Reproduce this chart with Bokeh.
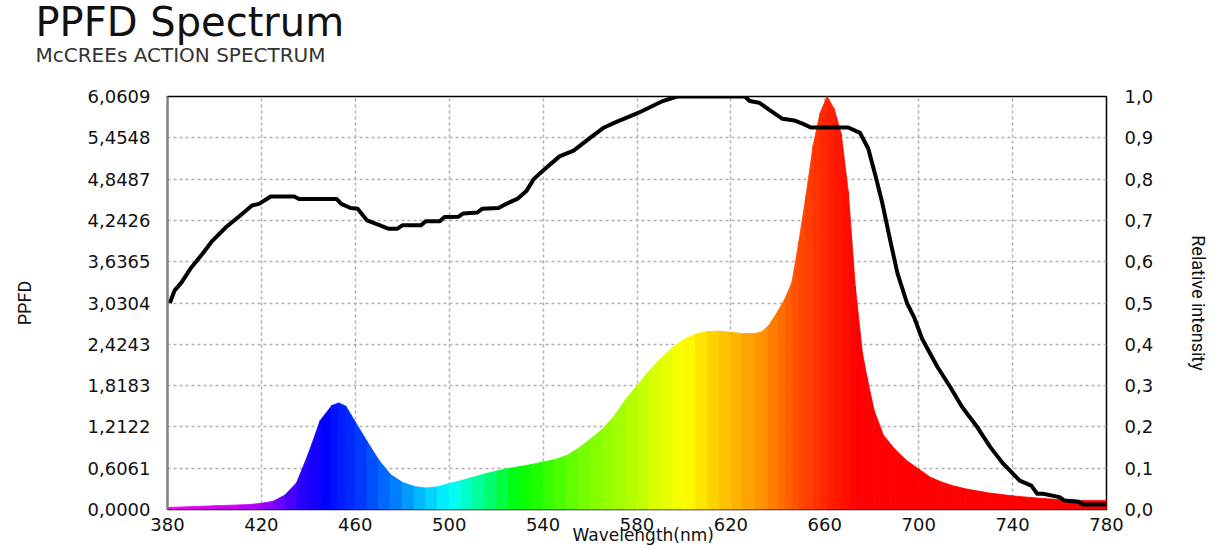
from bokeh.plotting import figure
from bokeh.models import (Range1d, LinearAxis, FixedTicker, CustomJSTickFormatter,
                          Title)
from bokeh.embed import file_html
from bokeh.resources import INLINE

# ---- data ----
wavelength = [380, 390, 400, 410, 415, 420, 425, 430, 435, 440, 445, 450, 453, 456, 460,
              465, 470, 475, 480, 485, 490, 495, 500, 505, 510, 515, 520, 525, 530, 535,
              540, 545, 550, 555, 560, 565, 570, 575, 580, 585, 590, 595, 600, 605, 610,
              615, 620, 625, 630, 633, 636, 640, 643, 646, 649, 652, 655, 658, 661, 664,
              667, 670, 673, 676, 678, 681, 685, 690, 695, 700, 705, 710, 715, 720, 730,
              740, 750, 760, 770, 780]
ppfd = [0.030, 0.042, 0.055, 0.067, 0.073, 0.091, 0.121, 0.212, 0.394, 0.818,
        1.303, 1.527, 1.564, 1.515, 1.285, 1.000, 0.727, 0.515, 0.400, 0.339,
        0.315, 0.333, 0.382, 0.424, 0.473, 0.521, 0.564, 0.600, 0.630, 0.661,
        0.697, 0.733, 0.794, 0.897, 1.030, 1.170, 1.360, 1.606, 1.818, 2.030,
        2.212, 2.376, 2.497, 2.576, 2.612, 2.618, 2.600, 2.582, 2.582, 2.606,
        2.697, 2.909, 3.091, 3.333, 3.940, 4.606, 5.334, 5.818, 6.061, 5.879,
        5.515, 4.667, 3.273, 2.303, 1.939, 1.455, 1.091, 0.879, 0.715, 0.594,
        0.473, 0.400, 0.345, 0.303, 0.242, 0.200, 0.170, 0.145, 0.133, 0.133]

mccree_nm = [381, 383, 386, 390, 395, 399, 405, 411, 416, 419, 424, 434, 436, 452, 454,
             458, 461, 465, 470, 474, 478, 480, 488, 490, 496, 498, 504, 506, 512, 514,
             521, 525, 529, 533, 536, 540, 547, 553, 561, 566, 571, 580, 591, 597, 626,
             628, 632, 637, 642, 647, 651, 654, 670, 675, 678.5, 681.5, 684.5, 688, 691,
             695, 698, 701.5, 708, 713.5, 718.5, 725, 730.5, 736, 743, 748, 750.5, 753,
             760, 762, 768, 770, 780]
mccree_rel = [0.50, 0.53, 0.55, 0.585, 0.62, 0.65, 0.684, 0.712, 0.736, 0.74, 0.758, 0.758,
              0.752, 0.752, 0.74, 0.73, 0.728, 0.70, 0.689, 0.68, 0.68, 0.688, 0.688, 0.698,
              0.698, 0.708, 0.709, 0.717, 0.719, 0.728, 0.73, 0.742, 0.752, 0.772, 0.80,
              0.821, 0.855, 0.869, 0.904, 0.925, 0.938, 0.959, 0.989, 1.0, 1.0, 0.989,
              0.985, 0.965, 0.946, 0.942, 0.933, 0.925, 0.925, 0.912, 0.874, 0.81, 0.742,
              0.648, 0.571, 0.50, 0.466, 0.413, 0.345, 0.296, 0.248, 0.199, 0.151, 0.111,
              0.07, 0.058, 0.038, 0.038, 0.03, 0.022, 0.019, 0.012, 0.012]

x_ticks = [380, 420, 460, 500, 540, 580, 620, 660, 700, 740, 780]
x_tick_labels = ["380", "420", "460", "500", "540", "580", "620", "660", "700", "740", "780"]
ppfd_ticks = [0.0, 0.606086, 1.212172, 1.818258, 2.424344, 3.03043, 3.636516,
              4.242602, 4.848688, 5.454774, 6.06086]
ppfd_tick_labels = ["0,0000", "0,6061", "1,2122", "1,8183", "2,4243", "3,0304",
                    "3,6365", "4,2426", "4,8487", "5,4548", "6,0609"]
rel_ticks = [0.0, 0.1, 0.2, 0.3, 0.4, 0.5, 0.6, 0.7, 0.8, 0.9, 1.0]
rel_tick_labels = ["0,0", "0,1", "0,2", "0,3", "0,4", "0,5", "0,6", "0,7", "0,8", "0,9", "1,0"]

# ---- wavelength colour (style) ----
stop_nm = [380, 415, 425, 435, 447, 464, 478, 493, 501, 514, 530, 556, 577, 590, 601,
           615, 634, 648, 662, 674, 780]
stop_hex = ["#f000f0", "#c000f8", "#8000ff", "#3800ff", "#0000ff", "#0040ff", "#0080ff",
            "#00d8ff", "#00ffff", "#00ff90", "#00ff00", "#70ff00", "#b0ff00", "#e0ff00",
            "#ffff00", "#ffc800", "#ff9000", "#ff5000", "#ff2000", "#ff0000", "#ff0000"]


def hex_rgb(h):
    return tuple(int(h[i:i + 2], 16) for i in (1, 3, 5))


def wl_color(w):
    for i in range(len(stop_nm) - 1):
        if stop_nm[i] <= w <= stop_nm[i + 1]:
            t = (w - stop_nm[i]) / (stop_nm[i + 1] - stop_nm[i])
            a, b = hex_rgb(stop_hex[i]), hex_rgb(stop_hex[i + 1])
            c = [round(a[k] + (b[k] - a[k]) * t) for k in range(3)]
            return "#%02x%02x%02x" % tuple(c)
    return stop_hex[-1]


def fmt(vals, labs):
    return CustomJSTickFormatter(args=dict(vals=vals, labs=labs), code="""
        let best = 0;
        for (let i = 0; i < vals.length; i++) {
            if (Math.abs(vals[i] - tick) < Math.abs(vals[best] - tick)) best = i;
        }
        return labs[best];
    """)


FONT = "DejaVu Sans"

p = figure(width=1212, height=549, x_range=Range1d(380, 780),
           y_range=Range1d(0, ppfd_ticks[-1]),
           output_backend="svg", toolbar_location=None,
           min_border_left=167, min_border_right=106, min_border_top=96,
           min_border_bottom=40,
           background_fill_color="white", border_fill_color="white",
           outline_line_color="black", outline_line_width=1.5)

p.extra_y_ranges = {"rel": Range1d(0, rel_ticks[-1])}

# titles (subtitle first so it sits closer to the frame)
p.add_layout(Title(text="McCREEs ACTION SPECTRUM", text_font=FONT, text_font_size="20px",
                   text_font_style="normal", text_color="#333333", offset=-132,
                   standoff=59), "above")
p.add_layout(Title(text="PPFD Spectrum", text_font=FONT, text_font_size="40px",
                   text_font_style="normal", text_color="#111111", offset=-132,
                   standoff=-66), "above")

# x-axis title, placed below the tick labels, left-aligned like the original
p.add_layout(Title(text="Wavelength(nm)", text_font=FONT, text_font_size="17px",
                   text_font_style="normal", text_color="#111111", align="left",
                   offset=405, standoff=-22), "below")

# spectrum fill as coloured segments
xs, ys, cols = [], [], []
for i in range(len(wavelength) - 1):
    x0, x1 = wavelength[i], wavelength[i + 1]
    xs.append([x0, x0, x1, x1])
    ys.append([0, ppfd[i], ppfd[i + 1], 0])
    cols.append(wl_color((x0 + x1) / 2))
p.patches(xs, ys, fill_color=cols, line_color=cols, line_width=0.8)

# McCree action spectrum
p.line(mccree_nm, mccree_rel, y_range_name="rel", line_color="black", line_width=4,
       line_join="round")

# axes
xa = p.xaxis[0]
xa.ticker = FixedTicker(ticks=x_ticks)
xa.formatter = fmt(x_ticks, x_tick_labels)
ya = p.yaxis[0]
ya.ticker = FixedTicker(ticks=ppfd_ticks)
ya.formatter = fmt(ppfd_ticks, ppfd_tick_labels)
ya.axis_label = "PPFD"
ra = LinearAxis(y_range_name="rel", ticker=FixedTicker(ticks=rel_ticks),
                formatter=fmt(rel_ticks, rel_tick_labels), axis_label="Relative intensity")
p.add_layout(ra, "right")

for ax in (xa, ya, ra):
    ax.major_tick_line_color = None
    ax.minor_tick_line_color = None
    ax.major_label_text_font = FONT
    ax.major_label_text_font_size = "18px"
    ax.major_label_text_color = "#111111"
    ax.axis_label_text_font = "Roboto"
    ax.axis_label_text_font_size = "18px"
    ax.axis_label_text_font_style = "normal"
    ax.axis_label_text_color = "#111111"
    ax.axis_line_color = None

xa.major_label_standoff = 2
ya.major_label_standoff = 11
ya.axis_label_standoff = 50
ra.major_label_standoff = 12
ra.axis_label_standoff = 32
ya.axis_line_color = "#808080"
ya.axis_line_width = 2

# grid
p.xgrid.ticker = FixedTicker(ticks=x_ticks)
p.ygrid.ticker = FixedTicker(ticks=ppfd_ticks)
for g in (p.xgrid[0], p.ygrid[0]):
    g.grid_line_color = "#b0b0b0"
    g.grid_line_dash = "3 3"
    g.grid_line_width = 1.5

open("out.html", "w").write(file_html(p, INLINE))
